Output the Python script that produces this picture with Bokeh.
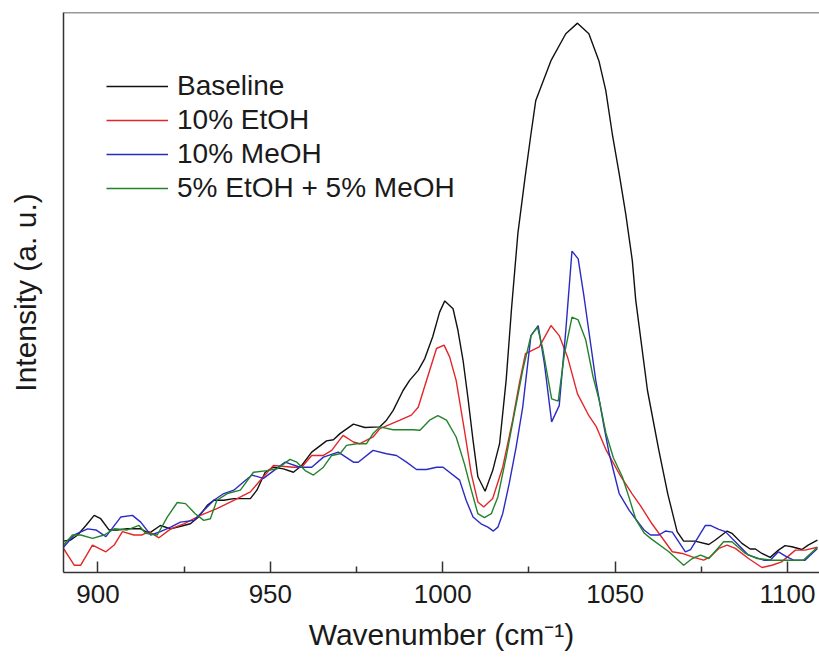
from bokeh.plotting import figure
from bokeh.models import Legend, LegendItem, Span, FixedTicker, LinearAxis
from bokeh.embed import file_html
from bokeh.resources import INLINE

# ---- data ----
xticks = [900, 950, 1000, 1050, 1100]
xminor = [925, 975, 1025, 1075]

base_wn = [890.0, 892.1, 894.1, 896.5, 898.9, 900.8, 903.2, 905.6, 908.5, 912.4, 914.8, 918.1, 921.1, 924.9, 926.8,
           929.2, 931.7, 933.6, 936.5, 939.4, 941.3, 944.2, 946.1, 948.5, 950.9, 953.8, 956.7, 959.1, 962.0, 966.3,
           968.3, 970.2, 974.1, 977.4, 981.7, 983.7, 985.6, 988.5, 990.4, 992.9, 994.8, 997.1, 999.1, 1000.6, 1003.0,
           1004.4, 1005.9, 1007.3, 1008.8, 1010.2, 1012.3, 1014.5, 1016.5, 1018.4, 1020.0, 1021.8, 1023.9, 1025.6,
           1027.0, 1031.4, 1035.7, 1039.1, 1042.4, 1045.3, 1047.3, 1049.2, 1051.2, 1053.1, 1055.0, 1056.0, 1059.4,
           1062.7, 1065.3, 1068.0, 1069.9, 1073.2, 1077.2, 1079.1, 1082.5, 1083.9, 1086.8, 1089.2, 1090.7, 1092.6,
           1095.0, 1097.4, 1099.3, 1101.3, 1104.2, 1106.0, 1108.7]
base_int = [5.6, 5.8, 6.7, 8.4, 10.2, 9.6, 7.6, 7.6, 7.8, 7.8, 7.0, 8.4, 7.8, 8.4, 8.7,
            9.9, 12.0, 12.9, 12.9, 13.2, 13.2, 13.2, 14.7, 17.9, 18.8, 18.5, 17.9, 19.1, 21.5, 23.5,
            23.7, 24.8, 26.5, 25.9, 26.0, 27.2, 28.9, 32.5, 34.3, 36.1, 38.2, 42.1, 46.5, 48.5, 47.1,
            43.3, 37.9, 31.3, 23.6, 17.1, 14.5, 18.2, 23.0, 34.3, 47.4, 60.5, 70.6, 78.3,
            84.3, 91.4, 96.2, 98.1, 96.2, 91.4, 86.1, 78.3, 71.2, 64.0, 55.7, 48.6, 32.5,
            21.8, 14.0, 7.3, 5.6, 5.6, 5.0, 5.8, 7.4, 7.0, 5.2, 4.2, 4.2, 3.4,
            2.7, 4.0, 4.8, 4.6, 4.1, 4.9, 5.8]

etoh_wn = [890.0, 893.1, 895.0, 898.4, 902.3, 904.7, 907.1, 910.4, 912.8, 914.8, 917.7, 921.1, 924.9, 929.7, 934.5,
           939.4, 944.2, 948.0, 950.9, 956.7, 959.1, 962.0, 965.4, 967.8, 971.1, 974.1, 976.0, 979.8, 981.8, 987.6,
           990.9, 992.9, 995.3, 998.2, 1000.4, 1002.0, 1003.9, 1006.3, 1008.3, 1010.2, 1011.9, 1014.5, 1017.4,
           1020.3, 1022.2, 1024.0, 1028.0, 1031.4, 1033.8, 1036.2, 1039.1, 1042.4, 1044.6, 1047.3, 1051.7, 1055.0,
           1057.3, 1060.7, 1066.6, 1069.5, 1072.4, 1075.7, 1077.6, 1080.1, 1082.5, 1084.9, 1088.7, 1092.6, 1095.5,
           1098.3, 1102.3, 1105.1, 1108.7]
etoh_int = [4.3, 1.3, 1.3, 4.9, 3.7, 4.9, 7.3, 6.7, 6.7, 7.3, 6.2, 7.8, 8.7, 10.2, 11.4,
            12.9, 14.4, 17.1, 19.1, 18.8, 18.8, 20.9, 20.9, 21.8, 24.5, 23.3, 23.0, 24.2, 25.7, 27.2,
            28.1, 29.5, 34.3, 40.0, 40.6, 38.5, 34.3, 25.4, 17.6, 12.6, 11.7, 13.2, 18.8,
            27.2, 33.7, 39.1, 40.3, 44.1, 42.3, 38.5, 31.9, 28.0, 26.0, 22.0, 17.1, 14.0,
            12.0, 8.7, 3.7, 3.4, 2.8, 2.2, 2.8, 4.3, 4.9, 4.3, 2.5, 0.9, 1.3,
            1.9, 4.0, 4.0, 4.5]

meoh_wn = [890.0, 893.1, 897.0, 899.4, 902.3, 906.6, 910.0, 912.4, 915.3, 918.1, 921.1, 923.9, 927.8, 930.7, 933.6,
           936.5, 939.4, 942.3, 944.7, 948.0, 954.3, 958.6, 962.0, 965.4, 969.7, 974.1, 975.5, 979.8, 983.7, 986.6,
           989.5, 992.4, 995.3, 998.2, 1000.1, 1004.9, 1006.8, 1008.8, 1011.1, 1013.1, 1014.7, 1016.0, 1017.4,
           1019.3, 1021.3, 1023.2, 1025.6, 1027.7, 1029.5, 1031.6, 1033.8, 1035.7, 1037.5, 1039.3, 1041.0, 1044.4,
           1046.8, 1048.3, 1051.2, 1054.1, 1057.0, 1058.4, 1060.3, 1062.7, 1064.6, 1066.6, 1070.4, 1071.9, 1076.2,
           1077.6, 1080.1, 1082.0, 1085.8, 1088.7, 1093.1, 1095.0, 1097.4, 1099.8, 1101.8, 1105.1, 1108.7]
meoh_int = [4.5, 6.7, 7.8, 7.6, 6.4, 9.9, 10.2, 9.0, 6.7, 7.3, 8.1, 9.0, 9.3, 11.1, 12.9,
            14.1, 14.7, 16.2, 17.4, 16.8, 19.7, 18.8, 18.8, 20.6, 21.5, 19.7, 19.7, 21.8, 21.2, 20.9,
            19.7, 18.4, 18.4, 18.8, 18.8, 16.5, 12.9, 9.9, 8.7, 8.1, 7.4, 8.1, 10.5,
            15.9, 22.4, 29.5, 42.3, 44.1, 37.3, 26.9, 29.8, 43.2, 57.4, 56.0, 49.2, 34.3,
            26.0, 21.2, 14.1, 11.1, 8.7, 7.6, 6.7, 6.7, 7.4, 7.2, 3.7, 4.1, 8.4,
            8.4, 7.7, 7.3, 4.9, 3.1, 2.2, 2.2, 3.7, 2.8, 2.2, 2.2, 4.3]

mix_wn = [890.0, 892.6, 895.0, 898.4, 901.8, 904.7, 908.5, 911.9, 913.8, 917.2, 920.1, 923.0, 925.4, 928.2, 930.7,
          932.6, 934.5, 937.5, 941.3, 945.1, 949.0, 951.9, 955.7, 957.7, 960.1, 962.5, 965.4, 967.8, 970.2, 972.1,
          975.0, 977.9, 979.8, 981.8, 985.6, 988.5, 991.4, 993.4, 996.2, 998.6, 1001.1, 1003.9, 1006.3, 1008.3,
          1010.2, 1012.1, 1014.1, 1016.0, 1018.4, 1020.8, 1023.2, 1025.6, 1027.5, 1029.0, 1031.6, 1033.5, 1035.3,
          1037.5, 1039.3, 1041.5, 1043.6, 1045.5, 1047.3, 1049.5, 1052.1, 1054.0, 1056.0, 1058.5, 1060.3, 1065.6,
          1069.9, 1072.4, 1074.8, 1077.2, 1081.5, 1083.9, 1087.8, 1091.2, 1095.5, 1100.6, 1104.6, 1108.7]
mix_int = [4.9, 6.7, 6.7, 6.1, 6.7, 7.8, 7.6, 8.4, 7.0, 6.7, 9.9, 12.5, 12.3, 10.5, 9.3,
           9.6, 12.9, 14.1, 14.7, 17.9, 18.2, 18.5, 20.2, 19.7, 18.2, 17.4, 18.8, 20.9, 21.2, 22.7,
           23.0, 23.0, 24.8, 26.0, 25.5, 25.5, 25.5, 25.4, 27.2, 28.0, 27.2, 24.2, 19.4, 14.7,
           10.5, 9.8, 10.5, 13.5, 20.6, 28.4, 36.1, 42.3, 43.8, 40.0, 31.0, 30.6, 39.0,
           45.6, 45.1, 41.5, 35.0, 30.5, 25.0, 20.5, 17.1, 13.5, 9.5, 7.0, 6.1, 3.7,
           1.3, 2.5, 3.1, 2.5, 5.5, 5.5, 3.4, 2.5, 2.2, 2.2, 2.2, 4.5]

series_names = ["Baseline", "10% EtOH", "10% MeOH", "5% EtOH + 5% MeOH"]
series_colors = ["#111111", "#e3262a", "#2b2bc4", "#23832b"]

FONT = "Liberation Sans"

p = figure(width=819, height=659, x_range=(890, 1109.3), y_range=(0, 100),
           output_backend="svg", toolbar_location=None,
           min_border_left=63, min_border_right=0, min_border_top=12, min_border_bottom=87,
           x_axis_location=None, y_axis_location=None)
p.outline_line_color = None
p.grid.visible = False
p.background_fill_color = "white"
p.border_fill_color = "white"

# bottom axis
xa = LinearAxis(ticker=FixedTicker(ticks=xticks, minor_ticks=xminor))
xa.axis_label = "Wavenumber (cm\u207b\u00b9)"
xa.axis_label_text_font = FONT
xa.axis_label_text_font_style = "normal"
xa.axis_label_text_font_size = "30px"
xa.axis_label_text_color = "#1a1a1a"
xa.axis_label_standoff = 12
xa.major_label_text_font = FONT
xa.major_label_text_font_size = "26px"
xa.major_label_text_color = "#1a1a1a"
xa.major_label_standoff = 12
xa.major_tick_in = 11
xa.major_tick_out = 0
xa.minor_tick_in = 6
xa.minor_tick_out = 0
xa.axis_line_width = 1.5
xa.axis_line_color = "#333333"
xa.major_tick_line_width = 1.5
xa.major_tick_line_color = "#333333"
xa.minor_tick_line_width = 1.5
xa.minor_tick_line_color = "#333333"
p.add_layout(xa, "below")

# left axis (no ticks)
ya = LinearAxis(ticker=FixedTicker(ticks=[]))
ya.axis_label = "Intensity (a. u.)"
ya.axis_label_text_font = FONT
ya.axis_label_text_font_style = "normal"
ya.axis_label_text_font_size = "30px"
ya.axis_label_text_color = "#1a1a1a"
ya.axis_label_standoff = 22
ya.major_tick_in = 0
ya.major_tick_out = 0
ya.minor_tick_in = 0
ya.minor_tick_out = 0
ya.major_label_text_font_size = "0px"
ya.axis_line_width = 1.5
ya.axis_line_color = "#333333"
p.add_layout(ya, "left")

# top frame line
p.add_layout(Span(location=100, dimension="width", line_color="#333333", line_width=1.5))

xs = [base_wn, etoh_wn, meoh_wn, mix_wn]
ys = [base_int, etoh_int, meoh_int, mix_int]
items = []
for name, col, x, y in zip(series_names, series_colors, xs, ys):
    r = p.line(x, y, line_color=col, line_width=1.4)
    items.append(LegendItem(label=name, renderers=[r]))

legend = Legend(items=items, location=(43, 367), orientation="vertical",
                glyph_width=62, glyph_height=34, label_height=34, label_standoff=9,
                spacing=0, padding=0, margin=0,
                label_text_font=FONT, label_text_font_size="28px", label_text_color="#1a1a1a",
                border_line_color=None, background_fill_alpha=0)
p.add_layout(legend, "center")

open("out.html", "w").write(file_html(p, INLINE))
